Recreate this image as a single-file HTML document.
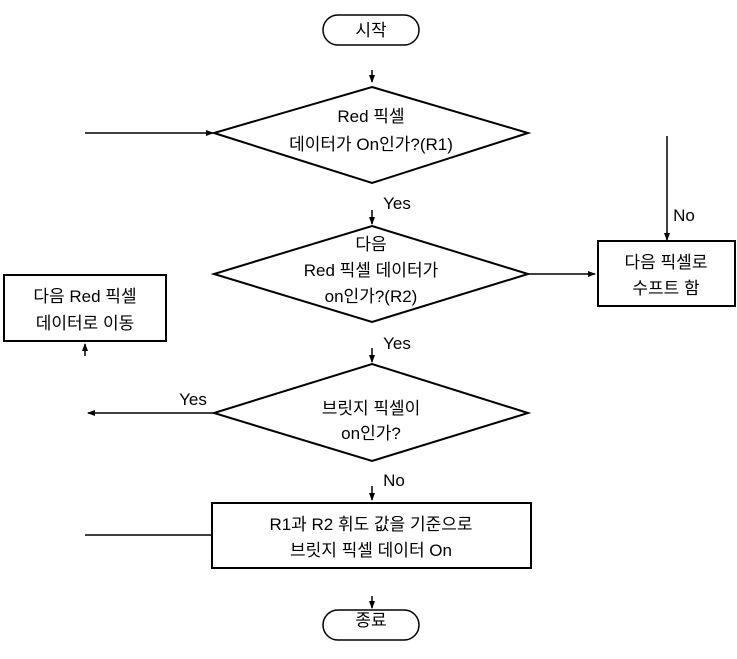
<!DOCTYPE html>
<html><head><meta charset="utf-8"><style>
html,body{margin:0;padding:0;background:#fff;}
svg text{font-family:"Liberation Sans","Noto Sans CJK KR","NanumGothic",sans-serif;font-size:17px;fill:#000;text-anchor:middle;}
</style></head><body>
<svg width="737" height="654" viewBox="0 0 737 654" xmlns="http://www.w3.org/2000/svg">
<defs><marker id="a" markerWidth="8" markerHeight="8" refX="7" refY="4" orient="auto" markerUnits="userSpaceOnUse"><path d="M0,1 L8,4 L0,7z" fill="#000"/></marker></defs>
<g stroke="#000" fill="none" stroke-width="1.5">
<rect x="323" y="15" width="96" height="30" rx="15"/>
<rect x="323" y="610" width="96" height="30" rx="15"/>
<polygon points="372,87 528,133 372,183 214,133" stroke-width="2"/>
<polygon points="372,226 528,274 372,322 214,274" stroke-width="2"/>
<polygon points="372,364 528,413 372,461 214,413" stroke-width="2"/>
<rect x="598" y="241" width="137" height="65" stroke-width="2"/>
<rect x="4" y="275" width="162" height="66" stroke-width="2"/>
<rect x="212" y="503" width="319" height="65" stroke-width="2"/>
<line x1="85" y1="133" x2="213" y2="133" marker-end="url(#a)"/>
<line x1="528" y1="274" x2="595" y2="274" marker-end="url(#a)"/>
<line x1="667" y1="136" x2="667" y2="240" marker-end="url(#a)"/>
<line x1="214" y1="413" x2="88" y2="413" marker-end="url(#a)"/>
<line x1="85" y1="535" x2="212" y2="535"/>
<line x1="372" y1="70" x2="372" y2="82" marker-end="url(#a)"/>
<line x1="372" y1="210" x2="372" y2="224" marker-end="url(#a)"/>
<line x1="372" y1="348" x2="372" y2="362" marker-end="url(#a)"/>
<line x1="372" y1="486" x2="372" y2="500" marker-end="url(#a)"/>
<line x1="372" y1="596" x2="372" y2="608" marker-end="url(#a)"/>
<line x1="85" y1="356" x2="85" y2="344" marker-end="url(#a)"/>
</g>
<text x="371" y="36">시작</text>
<text x="371" y="626">종료</text>
<text x="371" y="122">Red 픽셀</text>
<text x="371" y="150">데이터가 On인가?(R1)</text>
<text x="371" y="250">다음</text>
<text x="371" y="276">Red 픽셀 데이터가</text>
<text x="371" y="302">on인가?(R2)</text>
<text x="371" y="414">브릿지 픽셀이</text>
<text x="371" y="439">on인가?</text>
<text x="666" y="268">다음 픽셀로</text>
<text x="666" y="294">수프트 함</text>
<text x="85" y="302">다음 Red 픽셀</text>
<text x="85" y="329">데이터로 이동</text>
<text x="371" y="530">R1과 R2 휘도 값을 기준으로</text>
<text x="371" y="556">브릿지 픽셀 데이터 On</text>
<text x="397" y="209">Yes</text>
<text x="397" y="349">Yes</text>
<text x="193" y="405">Yes</text>
<text x="394" y="486">No</text>
<text x="684" y="221">No</text>
</svg>
</body></html>
